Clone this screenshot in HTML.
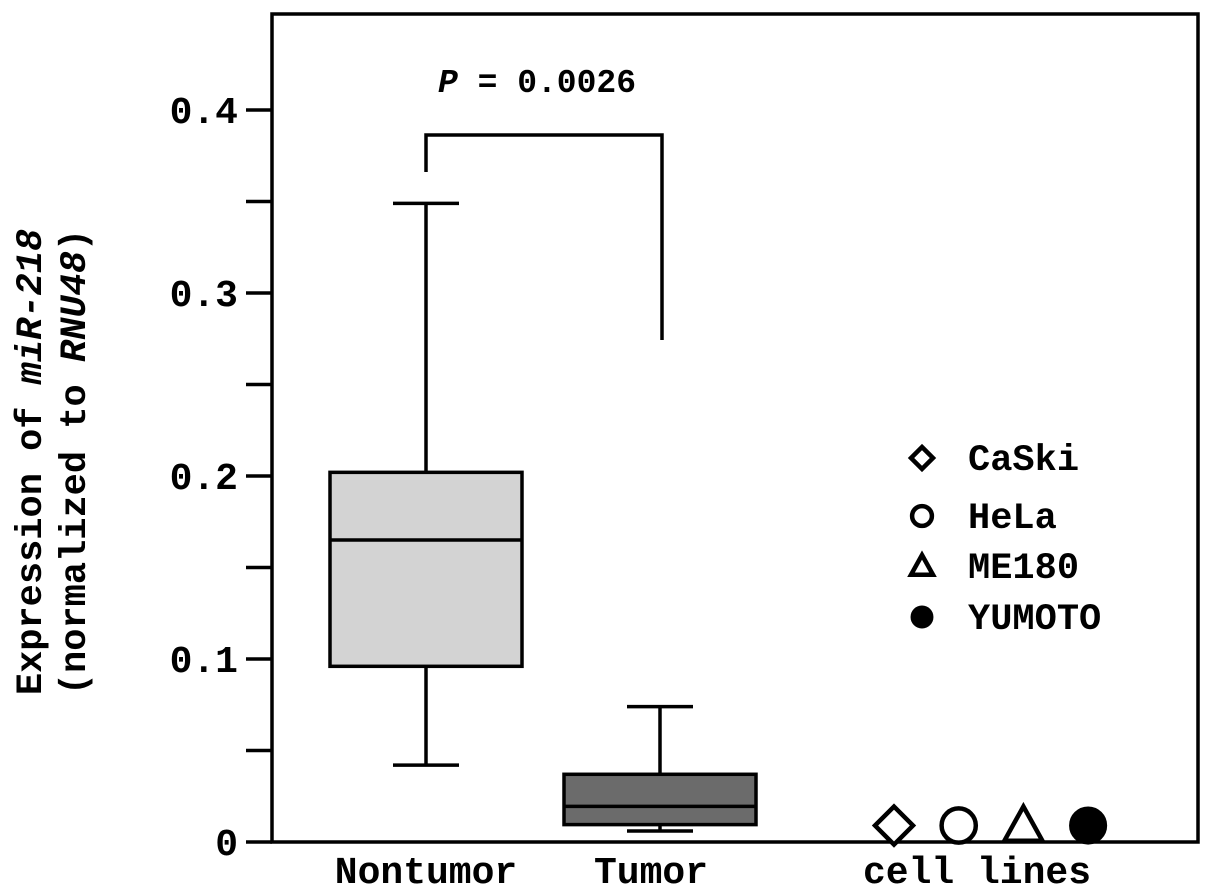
<!DOCTYPE html>
<html><head><meta charset="utf-8"><style>
html,body{margin:0;padding:0;background:#fff;}
svg{display:block;}
text{font-family:"Liberation Mono",monospace;fill:#000;font-weight:bold;}
</style></head><body>
<svg id="chart" width="1205" height="894">
<g id="g"></g>
</svg>
<script>
const yTicks=[0,0.1,0.2,0.3,0.4];
const yTickLabels=["0","0.1","0.2","0.3","0.4"];
const yMinor=[0.05,0.15,0.25,0.35];
const groups=["Nontumor","Tumor"];
const q1=[0.096,0.0095];
const q3=[0.202,0.037];
const med=[0.165,0.0195];
const whiskLo=[0.042,0.006];
const whiskHi=[0.349,0.074];
const boxFill=["#d3d3d3","#6b6b6b"];
const cellLines=["CaSki","HeLa","ME180","YUMOTO"];
const cellValues=[0.009,0.009,0.009,0.009];
const pText="0.0026";

const NS="http://www.w3.org/2000/svg";
const g=document.getElementById('g');
function y(v){return 842-v*1830;}
function gx(i){return [426,660][i];}
function cx(i){return 894+i*64.7;}
function el(t,a,txt){const e=document.createElementNS(NS,t);for(const k in a)e.setAttribute(k,a[k]);if(txt!==undefined)e.textContent=txt;g.appendChild(e);return e;}

let f=el('rect',{x:272,y:14,width:926,height:828,fill:'none',stroke:'#000','stroke-width':3.5});

yTicks.forEach((v,i)=>{
 let t=el('line',{x1:246,x2:272,y1:y(v),y2:y(v),stroke:'#000','stroke-width':3.5});
 
 let l=el('text',{x:238,y:y(v)+13,'text-anchor':'end','font-size':38},yTickLabels[i]);
 
});
yMinor.forEach(v=>{
 let t=el('line',{x1:246,x2:272,y1:y(v),y2:y(v),stroke:'#000','stroke-width':3.5});
 
});
groups.forEach((n,i)=>{
 const c=gx(i),w=96,cap=33;
 let a=el('line',{x1:c,x2:c,y1:y(whiskHi[i]),y2:y(q3[i]),stroke:'#000','stroke-width':3.5});
 
 let b=el('line',{x1:c,x2:c,y1:y(q1[i]),y2:y(whiskLo[i]),stroke:'#000','stroke-width':3.5});
 
 let c1=el('line',{x1:c-cap,x2:c+cap,y1:y(whiskHi[i]),y2:y(whiskHi[i]),stroke:'#000','stroke-width':3.5});
 
 let c2=el('line',{x1:c-cap,x2:c+cap,y1:y(whiskLo[i]),y2:y(whiskLo[i]),stroke:'#000','stroke-width':3.5});
 
 let r=el('rect',{x:c-w,y:y(q3[i]),width:2*w,height:y(q1[i])-y(q3[i]),fill:boxFill[i],stroke:'#000','stroke-width':3.5});
 
 let m=el('line',{x1:c-w,x2:c+w,y1:y(med[i]),y2:y(med[i]),stroke:'#000','stroke-width':3.5});
 
});
let br=el('path',{d:`M426 172 V135 H662 V340`,fill:'none',stroke:'#000','stroke-width':3.5});

let pt=el('text',{x:537,y:92,'text-anchor':'middle','font-size':33});

pt.innerHTML='<tspan font-style="italic">P</tspan> = '+pText;

function marker(i,xx,yy,s){
 let e;
 if(i===0)e=el('path',{d:`M${xx} ${yy-s} L${xx+s} ${yy} L${xx} ${yy+s} L${xx-s} ${yy} Z`,fill:'#fff',stroke:'#000','stroke-width':4.5});
 else if(i===1)e=el('circle',{cx:xx,cy:yy,r:s*0.9,fill:'#fff',stroke:'#000','stroke-width':4.5});
 else if(i===2)e=el('path',{d:`M${xx} ${yy-s} L${xx+s} ${yy+s*0.8} L${xx-s} ${yy+s*0.8} Z`,fill:'#fff',stroke:'#000','stroke-width':4.5});
 else e=el('circle',{cx:xx,cy:yy,r:s*0.95,fill:'#000',stroke:'#000','stroke-width':2});
 return e;
}
cellLines.forEach((n,i)=>{
 let m=marker(i,cx(i),y(cellValues[i]),19);
 
 const ly=[458,516,566,617][i];
 let lm=marker(i,922,ly,11);
 
 let lt=el('text',{x:968,y:ly+12,'font-size':37},n);
 
});
[["Nontumor",426],["Tumor",651],["cell lines",977]].forEach(([t,x])=>{
 let l=el('text',{x:x,y:883,'text-anchor':'middle','font-size':38},t);
 
});
let t1=el('text',{x:0,y:0,'text-anchor':'middle','font-size':37,transform:'translate(41,462) rotate(-90)'});
t1.innerHTML='Expression of <tspan font-style="italic">miR-218</tspan>';

let t2=el('text',{x:0,y:0,'text-anchor':'middle','font-size':37,transform:'translate(85,462) rotate(-90)'});
t2.innerHTML='(normalized to <tspan font-style="italic">RNU48</tspan>)';

</script>
</body></html>
